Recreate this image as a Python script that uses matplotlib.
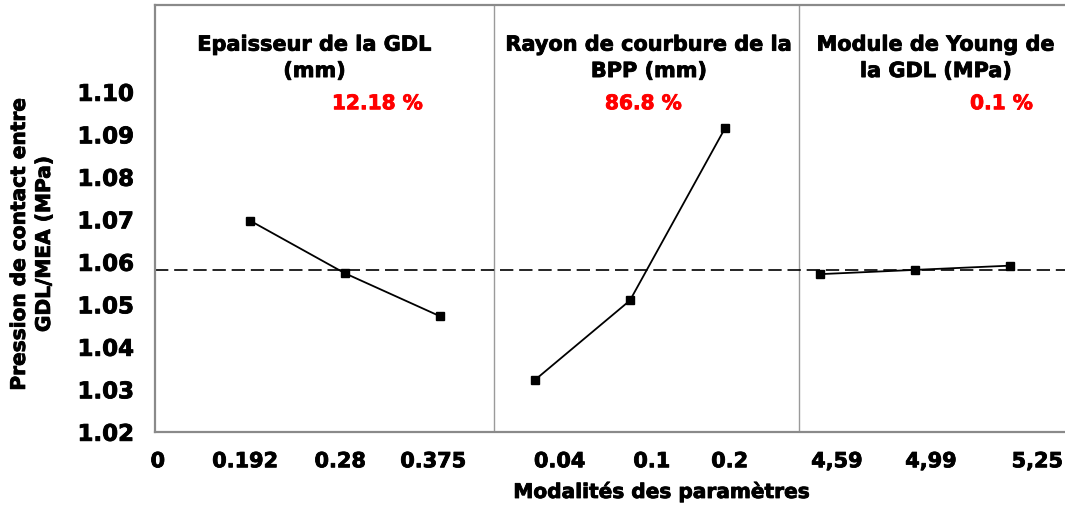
import matplotlib
matplotlib.use("Agg")
import matplotlib.pyplot as plt
import matplotlib.patheffects as pe
import numpy as np

# mean response per factor level
epaisseur_gdl = [1.0697, 1.0573, 1.0472]
rayon_bpp = [1.0322, 1.0509, 1.0914]
young_gdl = [1.0571, 1.0581, 1.0591]

factor_titles = ["Epaisseur de la GDL\n(mm)",
                 "Rayon de courbure de la\nBPP (mm)",
                 "Module de Young de\nla GDL (MPa)"]
contributions = ["12.18 %", "86.8 %", "0.1 %"]

level_labels = ["0", "0.192", "0.28", "0.375", "0.04", "0.1", "0.2",
                "4,59", "4,99", "5,25"]
yticks = [1.02, 1.03, 1.04, 1.05, 1.06, 1.07, 1.08, 1.09, 1.10]

plt.rcParams['font.family'] = ['DejaVu Sans']
plt.rcParams['font.weight'] = 'bold'

# slightly heavier strokes on all text
heavy = [pe.withStroke(linewidth=0.6, foreground='black')]
heavy_red = [pe.withStroke(linewidth=0.6, foreground='#ff0000')]

fig = plt.figure(figsize=(10.65, 5.08), dpi=100)
ax = fig.add_axes([0.1455, 0.150, 0.8545, 0.8407])

groups = [epaisseur_gdl, rayon_bpp, young_gdl]
grand_mean = np.mean(np.concatenate(groups))
ax.axhline(grand_mean, color='black', lw=1.2, ls=(0, (8, 3.5)), zorder=1)

for i, vals in enumerate(groups):
    xs = np.arange(1, 4) + 3 * i
    ax.plot(xs, vals, color='black', lw=1.3, marker='s', markersize=5.8,
            zorder=3)

# separators between factors
for xsep in (3.57, 6.78):
    ax.axvline(xsep, color='#9a9a9a', lw=1.0, zorder=0)

ax.set_xlim(0, 9.58)
ax.set_ylim(1.02, 1.1205)
ax.set_yticks(yticks)
ax.set_yticklabels([f"{v:.2f}" for v in yticks], fontsize=16.5,
                   fontweight='bold')

label_pos = [0.03, 0.95, 1.95, 2.93, 4.26, 5.23, 6.05, 7.18, 8.17, 9.29]
ax.set_xticks(label_pos)
ax.set_xticklabels(level_labels, fontsize=15, fontweight='bold')
ax.tick_params(axis='both', length=0)
ax.tick_params(axis='y', pad=15)
ax.tick_params(axis='x', pad=14)
for lab in ax.get_xticklabels() + ax.get_yticklabels():
    lab.set_path_effects(heavy)

for s in ('left', 'bottom', 'top'):
    ax.spines[s].set_color('#8a8a8a')
    ax.spines[s].set_linewidth(1.6)
ax.spines['right'].set_visible(False)

title_x = [1.68, 5.2, 8.22]
pct_x = [2.34, 5.14, 8.91]
for tx, px, t, p in zip(title_x, pct_x, factor_titles, contributions):
    ax.text(tx, 1.108, t, ha='center', va='center', fontsize=15,
            fontweight='bold', linespacing=1.4, path_effects=heavy)
    ax.text(px, 1.0972, p, ha='center', va='center', fontsize=14.5,
            fontweight='bold', color='#ff0000', path_effects=heavy_red)

fig.text(662 / 1065, 1 - 492 / 508, "Modalités des paramètres",
         ha='center', va='center', fontsize=14.5, fontweight='bold',
         path_effects=heavy)
fig.text(0.030, 0.52, "Pression de contact entre\nGDL/MEA (MPa)",
         rotation=90, ha='center', va='center', fontsize=14.5,
         fontweight='bold', linespacing=1.4, path_effects=heavy)

fig.savefig("out.png", dpi=100)
